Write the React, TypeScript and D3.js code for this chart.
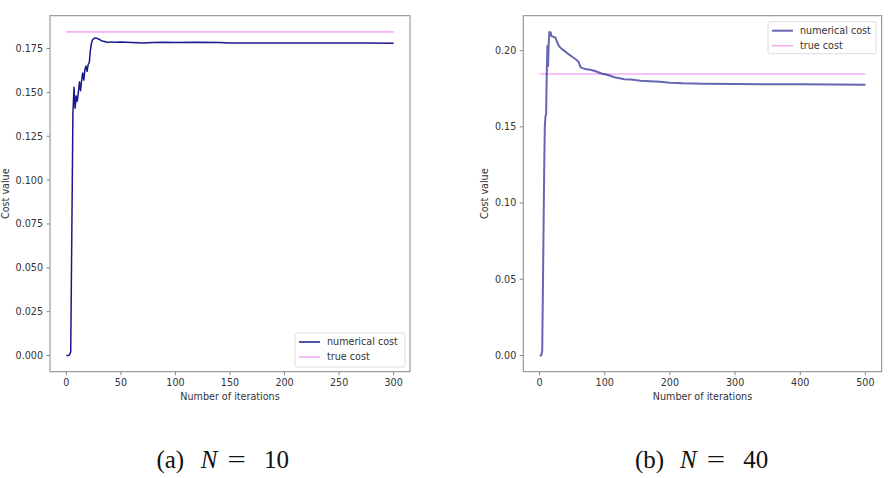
import React from "react";
import * as d3 from "d3";

// ---- Data ----
const leftIter = [0,1,2,3,4,5,6,7,8,9,10,11,12,13,14,15,16,17,18,19,20,21,22,23,24,25,26,27,28,30,32,35,38,40,45,50,60,70,80,90,100,120,140,150,175,200,225,250,275,300];
const leftCost = [0,0,0,0.0005,0.002,0.07,0.138,0.153,0.141,0.148,0.145,0.150,0.156,0.151,0.157,0.161,0.157,0.163,0.165,0.162,0.166,0.167,0.174,0.178,0.180,0.1805,0.181,0.181,0.1808,0.1803,0.1795,0.179,0.1785,0.1788,0.1786,0.1787,0.1784,0.1782,0.1785,0.1786,0.1785,0.1786,0.1784,0.1782,0.1781,0.1782,0.1781,0.1781,0.1781,0.178];
const leftTrue = 0.1845;
const leftXTicks = [0,50,100,150,200,250,300];
const leftYTicks = [0,0.025,0.05,0.075,0.1,0.125,0.15,0.175];

const rightIter = [0,1,2,3,4,5,6,7,8,9,10,11,12,13,14,15,16,17,18,20,22,24,26,28,30,35,40,45,50,55,60,63,66,70,78,85,95,105,115,130,140,155,170,185,200,220,250,300,350,400,450,500];
const rightCost = [0,0,0,0.001,0.003,0.04,0.08,0.12,0.15,0.157,0.158,0.185,0.203,0.19,0.205,0.2123,0.211,0.212,0.2095,0.2093,0.209,0.2088,0.2065,0.2045,0.2028,0.2008,0.1992,0.1975,0.196,0.1945,0.1925,0.189,0.1885,0.188,0.1875,0.1866,0.185,0.184,0.1825,0.1812,0.181,0.1803,0.1799,0.1796,0.179,0.1786,0.1783,0.1781,0.178,0.1779,0.1778,0.1777];
const rightTrue = 0.1847;
const rightXTicks = [0,100,200,300,400,500];
const rightYTicks = [0,0.05,0.1,0.15,0.2];

const legendLabels = ["numerical cost", "true cost"];
const xLabel = "Number of iterations";
const yLabel = "Cost value";

const FONT = "DejaVu Sans, sans-serif";
const SERIF = "Liberation Serif, serif";
const TXT = "#333";
const SPINE = "#888";

type PanelProps = {
  iters: number[];
  costs: number[];
  trueCost: number;
  xTicks: number[];
  yTicks: number[];
  yFmt: string;
  box: { l: number; r: number; t: number; b: number };
  lineColor: string;
  lineOpacity: number;
  lineWidth: number;
  legend: { x: number; y: number; w: number; h: number };
  caption: string;
  captionN: string;
  captionX: number;
  yLabelX: number;
};

function Panel(p: PanelProps) {
  const { box } = p;
  const xMin = d3.min(p.iters)!;
  const xMax = d3.max(p.iters)!;
  const xm = (xMax - xMin) * 0.05;
  const yMin = Math.min(d3.min(p.costs)!, p.trueCost);
  const yMax = Math.max(d3.max(p.costs)!, p.trueCost);
  const ym = (yMax - yMin) * 0.05;
  const x = d3.scaleLinear().domain([xMin - xm, xMax + xm]).range([box.l, box.r]);
  const y = d3.scaleLinear().domain([yMin - ym, yMax + ym]).range([box.b, box.t]);
  const line = d3
    .line<number>()
    .x((_, i) => x(p.iters[i]))
    .y((d) => y(d));
  const fmt = d3.format(p.yFmt);
  const cx = (box.l + box.r) / 2;
  const cy = (box.t + box.b) / 2;
  const lg = p.legend;
  const c0 = p.captionX; // left edge of caption
  const capY = 468;
  const capSize = 25;
  return (
    <g>
      {/* true cost */}
      <line
        x1={x(xMin)}
        x2={x(xMax)}
        y1={y(p.trueCost)}
        y2={y(p.trueCost)}
        stroke="#ee82ee"
        strokeOpacity={0.65}
        strokeWidth={1.6}
      />
      <path
        d={line(p.costs) || ""}
        fill="none"
        stroke={p.lineColor}
        strokeOpacity={p.lineOpacity}
        strokeWidth={p.lineWidth}
        strokeLinejoin="round"
      />
      {/* spines */}
      <rect x={box.l} y={box.t} width={box.r - box.l} height={box.b - box.t} fill="none" stroke={SPINE} strokeWidth={1} />
      {p.xTicks.map((t) => (
        <g key={"x" + t}>
          <line x1={x(t)} x2={x(t)} y1={box.b} y2={box.b + 3.5} stroke={SPINE} />
          <text x={x(t)} y={box.b + 14} textAnchor="middle" fontFamily={FONT} fontSize={9.6} fill={TXT}>
            {t}
          </text>
        </g>
      ))}
      {p.yTicks.map((t) => (
        <g key={"y" + t}>
          <line x1={box.l - 3.5} x2={box.l} y1={y(t)} y2={y(t)} stroke={SPINE} />
          <text x={box.l - 7} y={y(t) + 3.4} textAnchor="end" fontFamily={FONT} fontSize={9.6} fill={TXT}>
            {fmt(t)}
          </text>
        </g>
      ))}
      <text x={cx} y={box.b + 28.5} textAnchor="middle" fontFamily={FONT} fontSize={9.6} fill={TXT}>
        {xLabel}
      </text>
      <text
        transform={`translate(${p.yLabelX},${cy}) rotate(-90)`}
        textAnchor="middle"
        fontFamily={FONT}
        fontSize={9.6}
        fill={TXT}
      >
        {yLabel}
      </text>
      {/* legend */}
      <rect x={lg.x} y={lg.y} width={lg.w} height={lg.h} rx={2} fill="white" fillOpacity={0.85} stroke="#ddd" strokeWidth={1} />
      <line x1={lg.x + 4} x2={lg.x + 25} y1={lg.y + 9} y2={lg.y + 9} stroke={p.lineColor} strokeOpacity={p.lineOpacity} strokeWidth={p.lineWidth} />
      <line x1={lg.x + 4} x2={lg.x + 25} y1={lg.y + 24} y2={lg.y + 24} stroke="#ee82ee" strokeOpacity={0.65} strokeWidth={1.6} />
      <text x={lg.x + 32} y={lg.y + 12.4} fontFamily={FONT} fontSize={9.6} fill={TXT}>
        {legendLabels[0]}
      </text>
      <text x={lg.x + 32} y={lg.y + 27.4} fontFamily={FONT} fontSize={9.6} fill={TXT}>
        {legendLabels[1]}
      </text>
      {/* caption */}
      <g fontFamily={SERIF} fontSize={capSize} fill="#111" textAnchor="middle">
        <text x={c0 + 17.6} y={capY}>{p.caption}</text>
        <text x={c0 + 56.3} y={capY} fontStyle="italic">N</text>
        <text x={c0 + 84} y={capY} transform={`translate(${c0 + 84},0) scale(1.3,1) translate(${-(c0 + 84)},0)`}>=</text>
        <text x={c0 + 123.8} y={capY}>{p.captionN}</text>
      </g>
    </g>
  );
}

export default function App() {
  return (
    <svg
      width={890}
      height={478}
      style={{ position: "absolute", left: 0, top: 0, background: "white" }}
    >
      <rect x={0} y={0} width={890} height={478} fill="white" />
      <Panel
        iters={leftIter}
        costs={leftCost}
        trueCost={leftTrue}
        xTicks={leftXTicks}
        yTicks={leftYTicks}
        yFmt=".3f"
        box={{ l: 50, r: 410, t: 15.7, b: 371.7 }}
        lineColor="#000080"
        lineOpacity={0.9}
        lineWidth={1.5}
        legend={{ x: 295, y: 333, w: 110, h: 34 }}
        caption="(a)"
        captionN="10"
        captionX={152.7}
        yLabelX={9}
      />
      <Panel
        iters={rightIter}
        costs={rightCost}
        trueCost={rightTrue}
        xTicks={rightXTicks}
        yTicks={rightYTicks}
        yFmt=".2f"
        box={{ l: 523.3, r: 881.7, t: 15.7, b: 371.7 }}
        lineColor="#000080"
        lineOpacity={0.6}
        lineWidth={2}
        legend={{ x: 768, y: 21.7, w: 108, h: 32 }}
        caption="(b)"
        captionN="40"
        captionX={632}
        yLabelX={488}
      />
    </svg>
  );
}
